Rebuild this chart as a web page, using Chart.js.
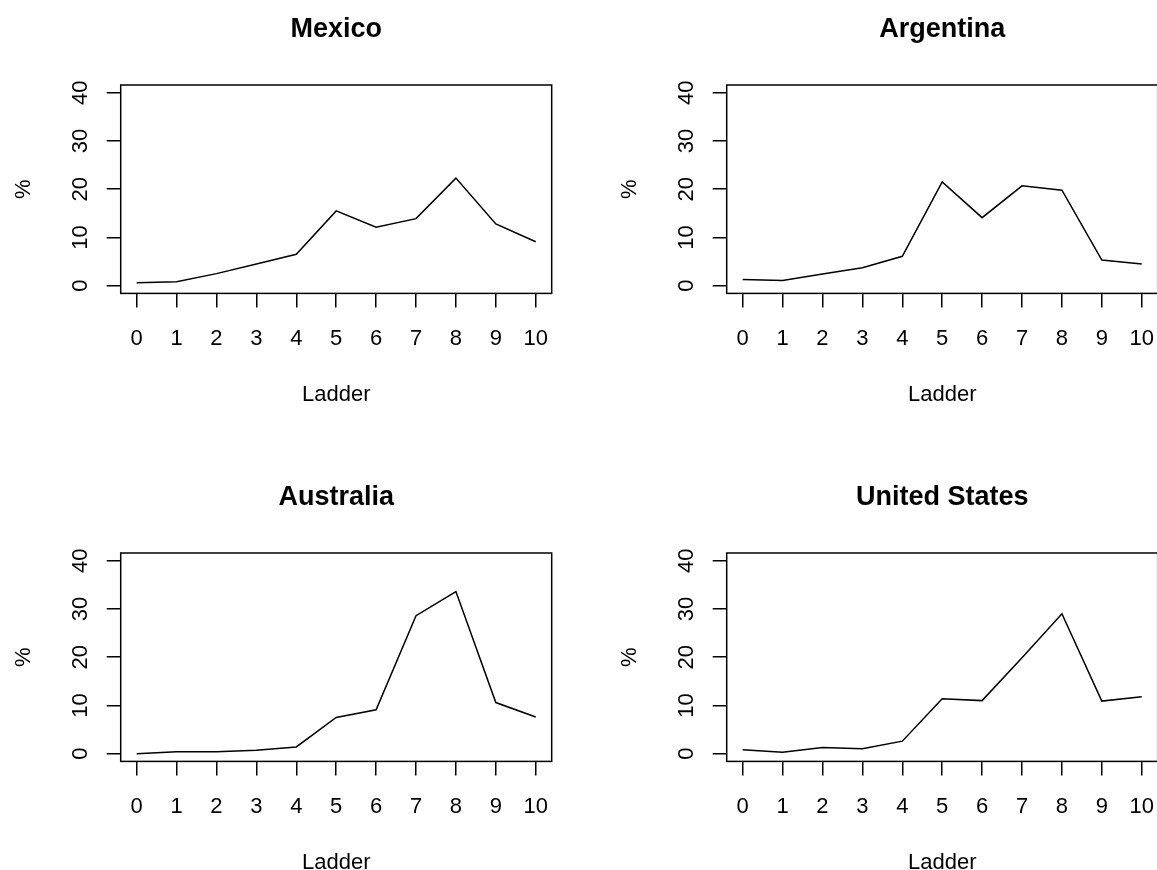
<!DOCTYPE html>
<html>
<head>
<meta charset="utf-8">
<title>Ladder distribution by country</title>
<script src="https://cdn.jsdelivr.net/npm/chart.js@4.4.1/dist/chart.umd.min.js"></script>
<style>
  html, body { margin: 0; padding: 0; background: #fff; }
  body { width: 1157px; height: 870px; overflow: hidden; position: relative; }
  canvas { position: absolute; }
</style>
</head>
<body>
<canvas id="c0" width="578" height="435"></canvas>
<canvas id="c1" width="578" height="435"></canvas>
<canvas id="c2" width="578" height="435"></canvas>
<canvas id="c3" width="578" height="435"></canvas>
<script>
// Ladder steps (x categories) and y-axis tick labels
const ladder = [0, 1, 2, 3, 4, 5, 6, 7, 8, 9, 10];
const percentTicks = [0, 10, 20, 30, 40];

// Share of respondents (%) on each ladder step
const mexico       = [0.6, 0.8, 2.5, 4.5, 6.5, 15.5, 12.1, 13.9, 22.3, 12.8, 9.1];
const argentina    = [1.3, 1.1, 2.4, 3.7, 6.1, 21.5, 14.1, 20.7, 19.8, 5.3, 4.5];
const australia    = [0.0, 0.4, 0.4, 0.7, 1.4, 7.5, 9.1, 28.6, 33.6, 10.6, 7.6];
const unitedStates = [0.8, 0.3, 1.3, 1.0, 2.6, 11.4, 11.0, 19.9, 29.0, 10.9, 11.8];

const panelTitles = ['Mexico', 'Argentina', 'Australia', 'United States'];
const panelSeries = [mexico, argentina, australia, unitedStates];

// Panel placement on the page (2 x 2 grid)
const panelOffsets = [[0, 0], [606, 0], [0, 468], [606, 468]];

const FONT = 'Liberation Sans, Arial, Helvetica, sans-serif';

// Draws the closed box around the plotting region
const frame = {
  id: 'frame',
  afterDraw(chart) {
    const a = chart.chartArea;
    const ctx = chart.ctx;
    ctx.save();
    ctx.strokeStyle = '#000';
    ctx.lineWidth = 1.5;
    ctx.strokeRect(a.left, a.top, a.right - a.left, a.bottom - a.top);
    ctx.restore();
  }
};

const tickGrid = {
  display: true,
  drawOnChartArea: false,
  drawTicks: true,
  tickLength: 14,
  color: '#000',
  lineWidth: 1.5
};

panelTitles.forEach((name, k) => {
  const canvas = document.getElementById('c' + k);
  canvas.style.left = panelOffsets[k][0] + 'px';
  canvas.style.top = panelOffsets[k][1] + 'px';

  new Chart(canvas, {
    type: 'line',
    data: {
      datasets: [{
        data: ladder.map((x, i) => ({ x: x, y: panelSeries[k][i] })),
        borderColor: '#000',
        borderWidth: 1.5,
        pointRadius: 0,
        tension: 0,
        fill: false
      }]
    },
    options: {
      responsive: false,
      animation: false,
      devicePixelRatio: 1,
      layout: { padding: { left: 0, top: 0, right: 26.3, bottom: 0 } },
      plugins: {
        legend: { display: false },
        tooltip: { enabled: false },
        title: {
          display: true,
          text: name,
          fullSize: false,
          color: '#000',
          font: { family: FONT, size: 27, weight: 'bold' },
          padding: { top: 13.4, bottom: 39.2 }
        }
      },
      scales: {
        x: {
          type: 'linear',
          min: -0.4,
          max: 10.4,
          afterBuildTicks: s => { s.ticks = ladder.map(v => ({ value: v })); },
          afterFit: s => { s.height = 141.6; },
          grid: tickGrid,
          border: { display: false },
          ticks: {
            color: '#000',
            font: { family: FONT, size: 22 },
            padding: 18.6,
            autoSkip: false,
            minRotation: 0,
            maxRotation: 0,
            callback: v => String(v)
          },
          title: {
            display: true,
            text: 'Ladder',
            color: '#000',
            font: { family: FONT, size: 22 },
            padding: { top: 0, bottom: 27.1 }
          }
        },
        y: {
          type: 'linear',
          min: -1.6,
          max: 41.6,
          afterBuildTicks: s => { s.ticks = percentTicks.map(v => ({ value: v })); },
          afterFit: s => { s.width = 120.7; },
          grid: tickGrid,
          border: { display: false },
          ticks: {
            color: '#000',
            font: { family: FONT, size: 22 },
            padding: 14,
            crossAlign: 'center',
            minRotation: 90,
            maxRotation: 90,
            callback: v => String(v)
          },
          title: {
            display: true,
            text: '%',
            color: '#000',
            font: { family: FONT, size: 22 },
            padding: { top: 10.6, bottom: 0 }
          }
        }
      }
    },
    plugins: [frame]
  });
});
</script>
</body>
</html>
